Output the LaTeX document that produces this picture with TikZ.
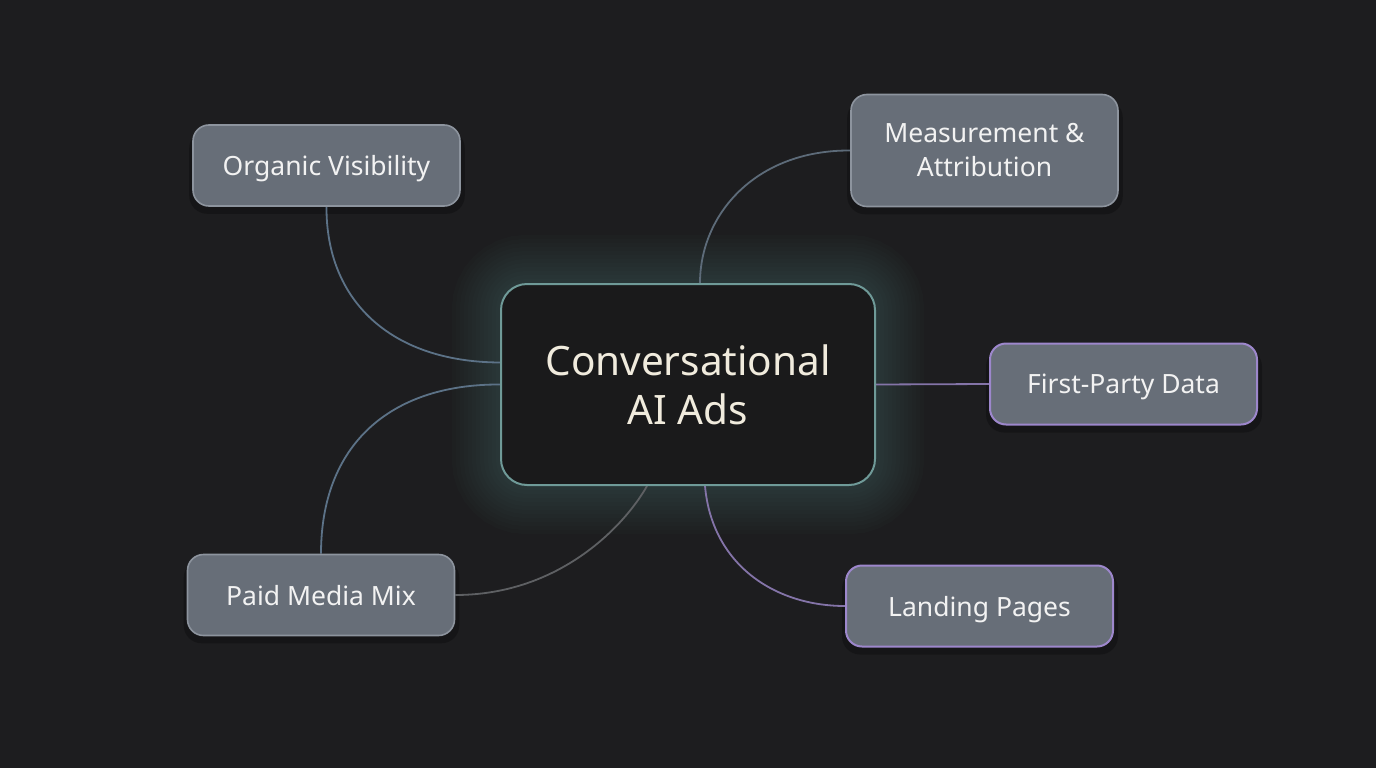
\documentclass[tikz,border=0pt]{standalone}
\usepackage{fontspec}
\setmainfont{Noto Sans}
\pgfdeclarelayer{bglayer}
\pgfdeclarelayer{background}
\pgfsetlayers{bglayer,background,main}
\definecolor{bgc}{HTML}{1D1D1F}
\definecolor{leaffill}{HTML}{676E78}
\definecolor{leafline}{HTML}{8D949E}
\definecolor{purpline}{HTML}{9D87CC}
\definecolor{hubfill}{HTML}{1A1A1B}
\definecolor{hubline}{HTML}{6F9A98}
\definecolor{hubtext}{HTML}{F0EBDD}
\definecolor{glowc}{HTML}{4F8C88}
\definecolor{bluecon}{HTML}{5C7287}
\definecolor{greycon}{HTML}{5E6063}
\definecolor{purpcon}{HTML}{8474A8}
\tikzset{
  leaf/.style={draw=leafline, line width=1.6pt, fill=leaffill, rounded corners=16pt,
    minimum width=267pt, minimum height=81pt, align=center, text=white!95!black,
    font=\fontsize{26.5}{34}\selectfont, inner sep=0pt},
  oneline/.style={text depth=0pt},
  pleaf/.style={leaf, draw=purpline, line width=2pt},
  hub/.style={draw=hubline, line width=2pt, fill=hubfill, rounded corners=26pt,
    minimum width=374pt, minimum height=201pt, align=center, text=hubtext,
    font=\fontsize{40.5}{49}\selectfont, inner sep=0pt},
  con/.style={line width=1.8pt},
  shadowc/.style={fill=black, opacity=0.25, rounded corners=18pt}
}
\begin{document}
\begin{tikzpicture}[x=1pt,y=-1pt]
\begin{pgfonlayer}{bglayer}
\fill[bgc] (0,0) rectangle (1376,768);
\end{pgfonlayer}
\useasboundingbox (0,0) rectangle (1376,768);

\node[hub] (hub) at (688,384.5) {Conversational\\AI Ads};
\node[leaf, oneline] (org) at (326.5,165.5) {Organic Visibility};
\node[leaf, minimum height=112pt] (meas) at (984.5,150.5) {Measurement \&\\Attribution};
\node[pleaf, oneline] (fpd) at (1123.5,384) {First-Party Data};
\node[leaf, oneline] (paid) at (321,595) {Paid Media Mix};
\node[pleaf, oneline] (land) at (979.5,606) {Landing Pages};

\begin{pgfonlayer}{background}
  % glow around hub
  \foreach \w in {96,88,...,8}{
    \draw[glowc, line width=\w pt, opacity=0.028, rounded corners=26pt]
      (hub.north west) rectangle (hub.south east);
  }
  % soft shadows of leaves
  \foreach \n in {org,meas,fpd,paid,land}{
    \fill[shadowc] ([xshift=-3pt,yshift=-6pt]\n.north west) rectangle ([xshift=4pt,yshift=-7pt]\n.south east);
  }
  \draw[con, bluecon] (org.south) .. controls (326,300) and (390,362) .. ([yshift=22pt]hub.west);
  \draw[con, bluecon] (paid.north) .. controls (321,445) and (390,384) .. (hub.west);
  \draw[con, greycon] (paid.east) .. controls (560,595) and (625,525) .. ([xshift=-41pt]hub.south);
  \draw[con, bluecon!60!greycon] (meas.west) .. controls (755,150) and (700,215) .. ([xshift=12pt]hub.north);
  \draw[con, purpcon] (hub.east) -- (fpd.west);
  \draw[con, purpcon] ([xshift=17pt]hub.south) .. controls (712,565) and (775,606) .. (land.west);
\end{pgfonlayer}
\end{tikzpicture}
\end{document}
